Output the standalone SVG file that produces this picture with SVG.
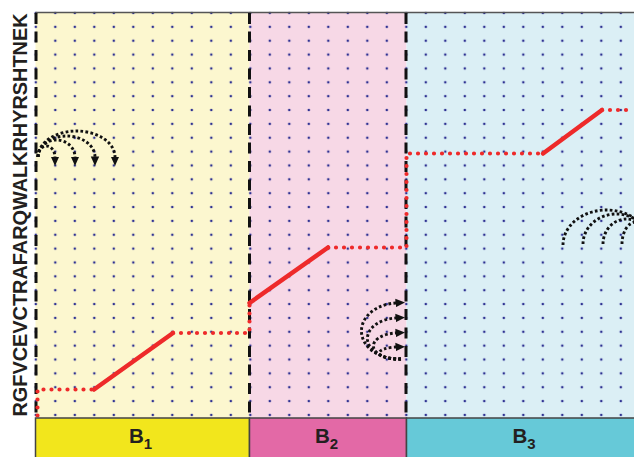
<svg xmlns="http://www.w3.org/2000/svg" width="634" height="457" viewBox="0 0 634 457">
  <style>
    .dash { fill: none; stroke: #111; stroke-width: 3; stroke-dasharray: 11 7.5; }
    .rdot { fill: none; stroke: #ee2a2a; stroke-width: 4.2; stroke-linecap: round; stroke-dasharray: 0 8; }
    .rsol { fill: none; stroke: #ee2a2a; stroke-width: 4.5; stroke-linecap: round; }
    .arc { fill: none; stroke: #111; stroke-width: 2.9; stroke-dasharray: 2.7 2.3; }
    .lbl { font-family: "Liberation Sans", Arial, sans-serif; font-weight: bold; fill: #231f20; }
    .bar { stroke: #444; stroke-width: 1.5; }
  </style>
  <defs>
    <pattern id="grid" patternUnits="userSpaceOnUse" x="26.05" y="6.07" width="19.5" height="13.86">
      <circle cx="9.75" cy="6.93" r="1.3" fill="#2e3192"/>
    </pattern>
    <marker id="ah" markerUnits="userSpaceOnUse" markerWidth="10" markerHeight="10" refX="0.5" refY="5" orient="auto" viewBox="0 0 10 10">
      <path d="M0,0.8 L9.5,5 L0,9.2 z" fill="#111"/>
    </marker>
  </defs>

  <!-- block backgrounds -->
  <g id="block-B1">
    <rect x="35.5" y="12.5" width="214" height="405.5" fill="#fcf7cf"/>
  </g>
  <g id="block-B2">
    <rect x="249.5" y="12.5" width="157" height="405.5" fill="#f7d8e6"/>
  </g>
  <g id="block-B3">
    <rect x="406.5" y="12.5" width="227.5" height="405.5" fill="#dbeff5"/>
  </g>

  <!-- dot grid -->
  <rect x="26" y="6" width="608" height="414" fill="url(#grid)"/>

  <!-- frame -->
  <line x1="35.5" y1="12.5" x2="634" y2="12.5" stroke="#555" stroke-width="1.5"/>
  <g id="boundaries">
    <line class="dash" x1="36" y1="13" x2="36" y2="418"/>
    <line class="dash" x1="249.5" y1="13" x2="249.5" y2="418"/>
    <line class="dash" x1="406" y1="13" x2="406" y2="418"/>
  </g>

  <!-- red path -->
  <g id="red-path">
    <path class="rdot" d="M37.5,415.5 V389.5 H94"/>
    <path class="rsol" d="M94,389.5 L173,333"/>
    <path class="rdot" d="M173,333 H249.5 V303"/>
    <path class="rsol" d="M249.5,303 L328,247.5"/>
    <path class="rdot" d="M328,247.5 H406.5 V153.5 H543"/>
    <path class="rsol" d="M543,153.5 L602,110"/>
    <path class="rdot" d="M602,110 H634"/>
  </g>

  <!-- connectors: dotted arcs -->
  <g id="connectors">
    <path class="arc" marker-end="url(#ah)" d="M38,157 A8.5 11 0 0 1 55,157"/>
    <path class="arc" marker-end="url(#ah)" d="M38,157 A18.5 17 0 0 1 75,157"/>
    <path class="arc" marker-end="url(#ah)" d="M38,157 A28.5 21 0 0 1 95,157"/>
    <path class="arc" marker-end="url(#ah)" d="M38,157 A38.5 26 0 0 1 115,157"/>

    <path class="arc" marker-end="url(#ah)" d="M401,359 A37 28 0 0 1 396,303"/>
    <path class="arc" marker-end="url(#ah)" d="M401,359 A31 20.5 0 0 1 396,318"/>
    <path class="arc" marker-end="url(#ah)" d="M401,359 A25 13 0 0 1 396,333"/>
    <path class="arc" marker-end="url(#ah)" d="M401,359 A19 6 0 0 1 396,347"/>

    <path class="arc" d="M563,245 A43.5 35 0 0 1 650,245"/>
    <path class="arc" d="M583,244 A33.5 30 0 0 1 650,244"/>
    <path class="arc" d="M603,244 A23.5 25 0 0 1 650,244"/>
    <path class="arc" d="M622,244 A14 22 0 0 1 650,244"/>
  </g>

  <!-- sequence -->
  <text class="lbl" font-size="20" transform="translate(27,416.5) rotate(-90)" textLength="403" lengthAdjust="spacingAndGlyphs">RGFVCEVCTRAFARQWALKRHYRSHTNEK</text>

  <!-- bottom bar -->
  <g id="bar-B1">
    <rect class="bar" x="35.5" y="418" width="214" height="40" fill="#f2e61c"/>
    <text class="lbl" x="129" y="442.5" font-size="20.5">B<tspan font-size="15" dy="6">1</tspan></text>
  </g>
  <g id="bar-B2">
    <rect class="bar" x="249.5" y="418" width="157" height="40" fill="#e369a6"/>
    <text class="lbl" x="315" y="443" font-size="20.5">B<tspan font-size="15" dy="6">2</tspan></text>
  </g>
  <g id="bar-B3">
    <rect class="bar" x="406.5" y="418" width="229" height="40" fill="#66c9d8"/>
    <text class="lbl" x="512.5" y="443" font-size="20.5">B<tspan font-size="15" dy="6">3</tspan></text>
  </g>
</svg>
